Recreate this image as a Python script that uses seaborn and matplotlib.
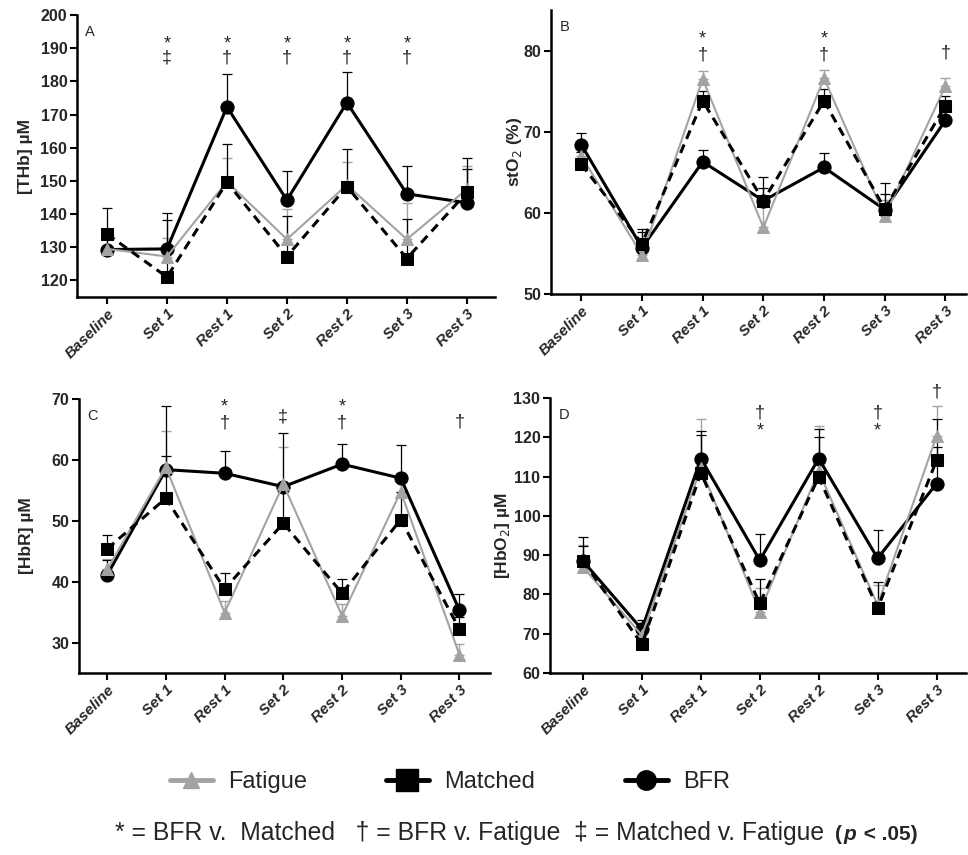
import numpy as np
import pandas as pd
import matplotlib
matplotlib.use("Agg")
import matplotlib.pyplot as plt
import matplotlib.transforms as mtransforms
from matplotlib.lines import Line2D
import seaborn as sns

sns.set_theme(style="ticks")
plt.rcParams['font.family'] = ['Liberation Sans', 'DejaVu Sans']

# ---------------- data ----------------
timepoints = ["Baseline", "Set 1", "Rest 1", "Set 2", "Rest 2", "Set 3", "Rest 3"]

# Panel A: [THb]
thb_bfr = [129.3, 129.5, 172.3, 144.2, 173.6, 146.1, 143.4]
thb_bfr_err = [4.0, 10.7, 9.8, 8.7, 9.2, 8.4, 10.3]
thb_matched = [134.0, 121.0, 149.6, 127.2, 148.3, 126.6, 146.5]
thb_matched_err = [7.8, 17.2, 11.4, 12.2, 11.4, 11.8, 10.5]
thb_fatigue = [129.5, 127.2, 149.8, 132.4, 148.8, 132.4, 147.5]
thb_fatigue_err = [3.0, 5.5, 7.0, 9.0, 7.0, 11.0, 7.0]

# Panel B: stO2
sto2_bfr = [68.4, 55.7, 66.3, 61.5, 65.6, 60.4, 71.4]
sto2_bfr_err = [1.5, 2.0, 1.4, 2.9, 1.8, 3.3, 1.5]
sto2_matched = [66.0, 56.2, 73.8, 61.5, 73.8, 60.5, 73.2]
sto2_matched_err = [1.5, 1.8, 1.2, 1.6, 1.5, 1.8, 1.2]
sto2_fatigue = [67.0, 54.8, 76.5, 58.2, 76.6, 59.6, 75.6]
sto2_fatigue_err = [1.5, 2.0, 1.0, 2.5, 1.0, 2.0, 1.0]

# Panel C: [HbR]
hbr_bfr = [41.1, 58.4, 57.8, 55.6, 59.3, 57.0, 35.3]
hbr_bfr_err = [2.5, 10.4, 3.6, 8.8, 3.3, 5.4, 2.7]
hbr_matched = [45.4, 53.7, 38.8, 49.6, 38.1, 50.2, 32.2]
hbr_matched_err = [2.2, 7.0, 2.6, 5.5, 2.3, 4.5, 2.0]
hbr_fatigue = [42.0, 58.8, 34.9, 56.0, 34.4, 54.8, 28.0]
hbr_fatigue_err = [1.8, 6.0, 2.0, 6.1, 2.0, 3.0, 1.8]

# Panel D: [HbO2]
hbo2_bfr = [88.5, 71.1, 114.6, 88.7, 114.6, 89.2, 108.2]
hbo2_bfr_err = [6.0, 2.5, 6.0, 6.6, 5.6, 7.2, 9.3]
hbo2_matched = [88.6, 67.3, 110.9, 77.7, 109.9, 76.5, 114.1]
hbo2_matched_err = [3.8, 5.5, 10.8, 6.2, 12.3, 6.7, 10.5]
hbo2_fatigue = [87.0, 69.6, 112.2, 75.6, 111.4, 77.3, 120.3]
hbo2_fatigue_err = [5.5, 3.0, 12.4, 6.0, 11.5, 5.0, 7.7]

# significance marks: (timepoint index, stacked symbols top->bottom)
sig_a = [(1, "*\n\u2021"), (2, "*\n\u2020"), (3, "*\n\u2020"), (4, "*\n\u2020"), (5, "*\n\u2020")]
sig_b = [(2, "*\n\u2020"), (4, "*\n\u2020"), (6, "\u2020")]
sig_c = [(2, "*\n\u2020"), (3, "\u2021"), (4, "*\n\u2020"), (6, "\u2020")]
sig_d = [(3, "\u2020\n*"), (5, "\u2020\n*"), (6, "\u2020")]

FIG_W, FIG_H = 968, 855
fig = plt.figure(figsize=(FIG_W / 100, FIG_H / 100), dpi=100)

def px_axes(left, right, top, bottom):
    return fig.add_axes([left / FIG_W, 1 - bottom / FIG_H, (right - left) / FIG_W, (bottom - top) / FIG_H])

GRAY = "#a3a3a3"
x = np.arange(len(timepoints))

def draw_panel(ax, letter, fat, fat_e, mat, mat_e, bfr, bfr_e, ylim, yticks, ylabel,
               xlim, label_x, sig, sig_px, sig_ls):
    z = np.zeros(len(x))
    ax.errorbar(x, fat, yerr=[z, fat_e], fmt="none", ecolor=GRAY, elinewidth=1.0,
                capsize=3.5, capthick=1.0, zorder=2)
    ax.errorbar(x, mat, yerr=[z, mat_e], fmt="none", ecolor="black", elinewidth=0.9,
                capsize=3.5, capthick=0.9, zorder=2)
    ax.errorbar(x, bfr, yerr=[z, bfr_e], fmt="none", ecolor="black", elinewidth=0.9,
                capsize=3.5, capthick=0.9, zorder=2)
    sns.lineplot(x=x, y=bfr, ax=ax, color="black", linewidth=2.2, marker="o",
                 markersize=9.5, markeredgecolor="black", zorder=3)
    sns.lineplot(x=x, y=fat, ax=ax, color=GRAY, linewidth=1.5, marker="^",
                 markersize=8, markeredgecolor=GRAY, zorder=4)
    sns.lineplot(x=x, y=mat, ax=ax, color="black", linewidth=2.2, linestyle=(0, (3, 2)),
                 marker="s", markersize=9, markeredgecolor="black", zorder=5)
    ax.set_ylim(*ylim)
    ax.set_xlim(*xlim)
    ax.set_yticks(yticks)
    ax.set_xticks(x)
    ax.set_xticklabels(timepoints, rotation=45, ha="right", rotation_mode="anchor",
                       fontweight="bold", fontstyle="italic", fontsize=11)
    for lab in ax.get_yticklabels():
        lab.set_fontweight("bold")
        lab.set_fontsize(11.5)
    ax.set_ylabel(ylabel, fontweight="bold", fontsize=12.5)
    ax.yaxis.set_label_coords(label_x, 0.5)
    ax.set_xlabel("")
    sns.despine(ax=ax)
    for s in ("left", "bottom"):
        ax.spines[s].set_linewidth(1.8)
        ax.spines[s].set_color("black")
    ax.tick_params(axis="both", width=1.5, length=5, color="black", pad=2)
    ax.text(0.02, 0.965, letter, transform=ax.transAxes, fontsize=10.5, va="top", ha="left")
    ax.set_facecolor("white")
    trans = mtransforms.blended_transform_factory(ax.transData, fig.transFigure)
    for idx, s in sig:
        ax.text(idx, 1 - sig_px[idx] / FIG_H, s, ha="center", va="center", fontsize=13,
                linespacing=sig_ls, clip_on=False, transform=trans)

axA = px_axes(77, 495, 15, 297)
draw_panel(axA, "A", thb_fatigue, thb_fatigue_err, thb_matched, thb_matched_err,
           thb_bfr, thb_bfr_err, (115, 200), np.arange(120, 201, 10), "[THb] \u00b5M",
           (-0.5, 6.47), -0.105, sig_a, {i: 51 for i in range(7)}, 0.7)

axB = px_axes(551, 966, 10, 294)
draw_panel(axB, "B", sto2_fatigue, sto2_fatigue_err, sto2_matched, sto2_matched_err,
           sto2_bfr, sto2_bfr_err, (50, 85), [50, 60, 70, 80], "stO$_2$ (%)",
           (-0.5, 6.34), -0.065, sig_b, {2: 47, 4: 47, 6: 53}, 0.95)

axC = px_axes(79, 490, 399, 673)
draw_panel(axC, "C", hbr_fatigue, hbr_fatigue_err, hbr_matched, hbr_matched_err,
           hbr_bfr, hbr_bfr_err, (25, 70), [30, 40, 50, 60, 70], "[HbR] \u00b5M",
           (-0.48, 6.52), -0.11, sig_c, {2: 415, 3: 417, 4: 415, 6: 422}, 0.85)

axD = px_axes(550, 966, 398, 673)
draw_panel(axD, "D", hbo2_fatigue, hbo2_fatigue_err, hbo2_matched, hbo2_matched_err,
           hbo2_bfr, hbo2_bfr_err, (60, 130), np.arange(60, 131, 10), "[HbO$_2$] \u00b5M",
           (-0.56, 6.5), -0.092, sig_d, {3: 422, 5: 422, 6: 392}, 1.1)

# ---------------- legend ----------------
leg_y = 1 - 782 / FIG_H
entries = [
    (Line2D([], [], color=GRAY, lw=3.5, marker="^", markersize=11, markeredgecolor=GRAY), "Fatigue", 170),
    (Line2D([], [], color="black", lw=3.5, marker="s", markersize=16), "Matched", 386),
    (Line2D([], [], color="black", lw=3.5, marker="o", markersize=14), "BFR", 625),
]
for h, lab, xp in entries:
    fig.legend([h], [lab], loc="center left", bbox_to_anchor=(xp / FIG_W, leg_y),
               frameon=False, fontsize=17, handlelength=1.8, handletextpad=0.65,
               borderpad=0, borderaxespad=0)

# ---------------- footnote ----------------
foot_y = 1 - 833 / FIG_H
fig.text(115 / FIG_W, foot_y,
         "* = BFR v.  Matched   \u2020 = BFR v. Fatigue  \u2021 = Matched v. Fatigue",
         fontsize=17.85, ha="left", va="center")
renderer = fig.canvas.get_renderer()
xp = 835
for piece, style in (("(", "normal"), ("p", "italic"), (" < .05)", "normal")):
    t = fig.text(xp / FIG_W, foot_y - 0.002, piece, fontsize=15, fontweight="bold",
                 fontstyle=style, ha="left", va="center")
    xp = t.get_window_extent(renderer).x1 + (2 if piece == "p" else 1)

fig.savefig("out.png", dpi=100, facecolor="white")
